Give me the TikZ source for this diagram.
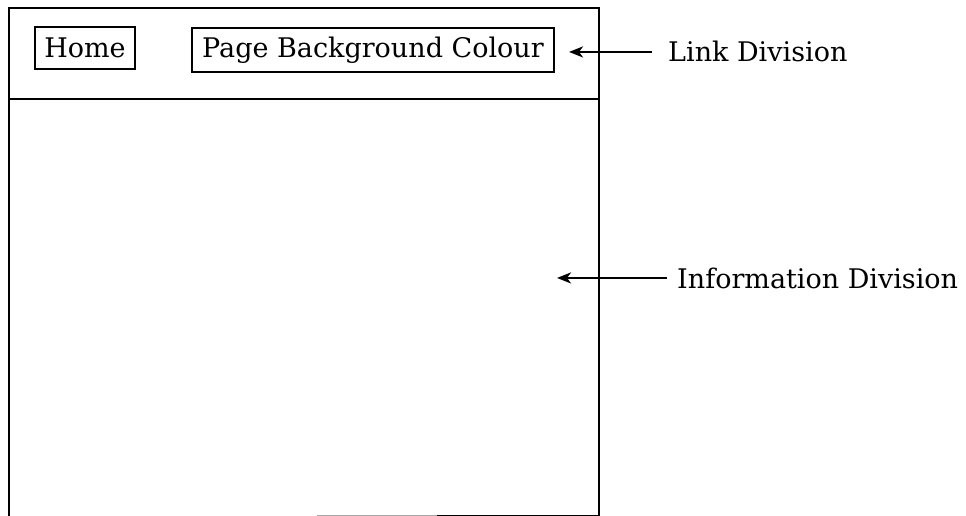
\documentclass[tikz,border=0pt]{standalone}
\usepackage{fontspec}
\setmainfont{DejaVu Serif}
\usetikzlibrary{arrows.meta}
\begin{document}
\begin{tikzpicture}[x=1pt,y=-1pt,
  frame/.style={line width=2.6pt},
  btn/.style={draw,line width=2.2pt,inner sep=0pt,font=\fontsize{27}{32}\selectfont},
  lbl/.style={font=\fontsize{27}{32}\selectfont,anchor=base west,inner sep=0pt},
  pointer/.style={line width=2.4pt,-{Stealth[length=14pt,width=11pt,inset=4pt]}}]
\useasboundingbox (0,0) rectangle (966,516);
% page frame
\coordinate (tl) at (9,8);
\coordinate (bl) at (9,516);
\coordinate (tr) at (599,8);
\coordinate (br) at (599,516);
\coordinate (bm) at (437,516);
\coordinate (bg) at (317,516);
\coordinate (dl) at (9,99);
\coordinate (dr) at (599,99);
\draw[frame] (bl) -- (tl) -- (tr) -- (br) -- (bm);
\draw[line width=2pt,black!35] (bm) -- (bg);
\draw[frame] (dl) -- (dr);
% buttons
\node[btn,minimum width=100pt,minimum height=42pt] (home) at (85,48) {Home};
\node[btn,minimum width=362pt,minimum height=44pt] (pbc) at (373,50) {Page Background Colour};
% labels
\node[lbl] (link) at (668,62) {Link Division};
\node[lbl] (info) at (677,288) {Information Division};
\coordinate (linktip) at (569,52);
\coordinate (infotip) at (557,277);
\draw[pointer] ([xshift=-16pt]link.west) -- (linktip |- link.west);
\draw[pointer] ([xshift=-10pt]info.west) -- (infotip |- info.west);
\end{tikzpicture}
\end{document}
